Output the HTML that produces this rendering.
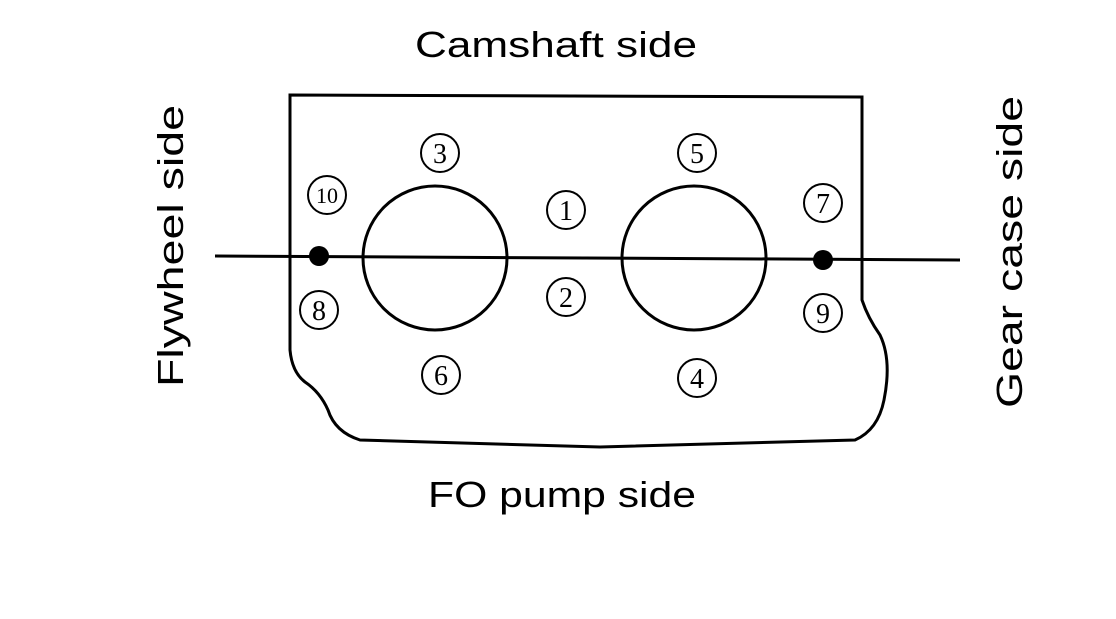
<!DOCTYPE html>
<html><head><style>body{margin:0;background:#fff}</style></head><body>
<svg width="1116" height="614" viewBox="0 0 1116 614" xmlns="http://www.w3.org/2000/svg" font-family="Liberation Sans, sans-serif">
<rect width="1116" height="614" fill="#fff"/>
<g fill="none" stroke="#000" stroke-width="3">
<path d="M290 95 L862 97 L862 300 Q868 318 880 335 Q892 360 884 400 Q878 430 855 440 L600 447 L360 440 Q335 432 328 410 Q320 392 305 382 Q292 372 290 350 Z"/>
<circle cx="435" cy="258" r="72"/>
<circle cx="694" cy="258" r="72"/>
<line x1="215" y1="256" x2="960" y2="260"/>
</g>
<circle cx="319" cy="256" r="10" fill="#000"/>
<circle cx="823" cy="260" r="10" fill="#000"/>
<g fill="none" stroke="#000" stroke-width="2">
<circle cx="440" cy="153" r="19"/><circle cx="697" cy="153" r="19"/>
<circle cx="327" cy="195" r="19"/><circle cx="566" cy="210" r="19"/>
<circle cx="823" cy="203" r="19"/><circle cx="319" cy="310" r="19"/>
<circle cx="566" cy="297" r="19"/><circle cx="823" cy="313" r="19"/>
<circle cx="441" cy="375" r="19"/><circle cx="697" cy="378" r="19"/>
</g>
<g font-family="Liberation Serif, serif" font-size="28" text-anchor="middle">
<text x="440" y="163">3</text><text x="697" y="163">5</text>
<text x="327" y="203" font-size="22">10</text><text x="566" y="220">1</text>
<text x="823" y="213">7</text><text x="319" y="320">8</text>
<text x="566" y="307">2</text><text x="823" y="323">9</text>
<text x="441" y="385">6</text><text x="697" y="388">4</text>
</g>
<g font-size="36">
<text x="415" y="57" textLength="282" lengthAdjust="spacingAndGlyphs">Camshaft side</text>
<text x="428" y="507" textLength="268" lengthAdjust="spacingAndGlyphs">FO pump side</text>
<text transform="translate(183 387) rotate(-90)" textLength="282" lengthAdjust="spacingAndGlyphs">Flywheel side</text>
<text transform="translate(1022 408) rotate(-90)" textLength="312" lengthAdjust="spacingAndGlyphs">Gear case side</text>
</g>
</svg>
</body></html>
